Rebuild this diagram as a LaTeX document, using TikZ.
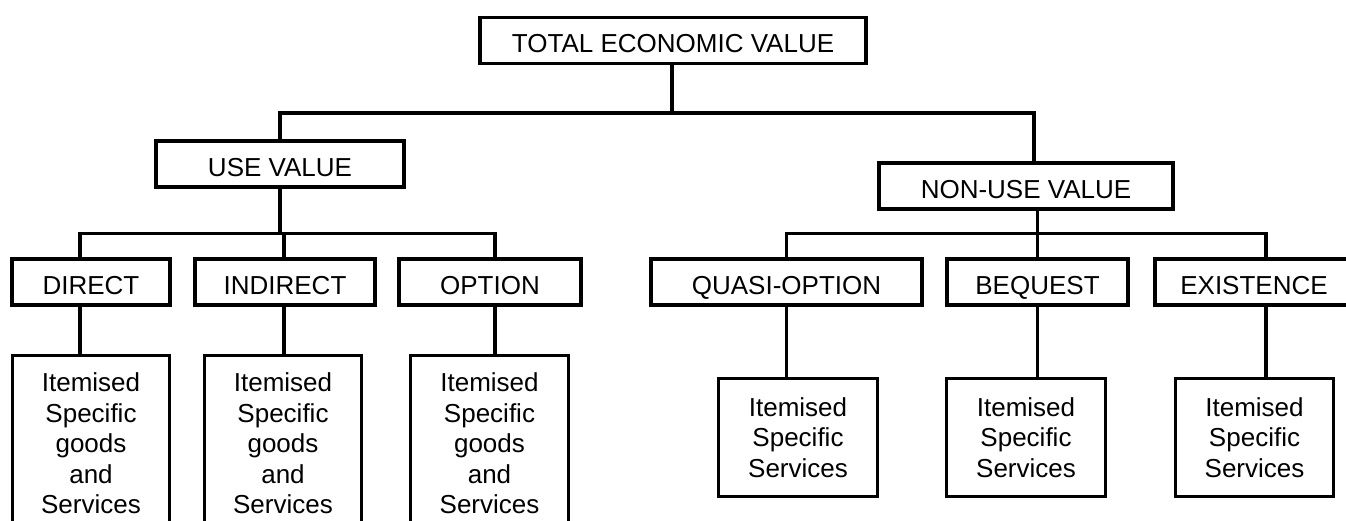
\documentclass[tikz,border=0pt]{standalone}
\usepackage{fontspec}
\setmainfont{Liberation Sans}
\begin{document}
\begin{tikzpicture}[x=1pt,y=-1pt,
  lw/.style={line width=3.3pt},
  box/.style={draw, lw, rectangle, inner sep=0pt, font=\fontsize{26}{30.5}\selectfont},
  onebox/.style={box, text height=25pt, text depth=0pt, minimum height=46pt},
  itembox/.style={box, align=center},
  conn/.style={lw}]
\useasboundingbox (0,0) rectangle (1346,521);
\clip (0,0) rectangle (1346,521);
% level 1
\node[onebox, minimum width=386pt] (total) at (673,40.5) {TOTAL ECONOMIC VALUE};
% level 2
\node[onebox, minimum width=248pt] (use) at (280,164) {USE VALUE};
\node[onebox, minimum width=294pt] (nonuse) at (1026,186) {NON-USE VALUE};
% level 3
\node[onebox, minimum width=158pt] (direct) at (91,282) {DIRECT};
\node[onebox, minimum width=180pt] (indirect) at (285,282) {INDIRECT};
\node[onebox, minimum width=182pt] (option) at (490,282) {OPTION};
\node[onebox, minimum width=271pt] (quasi) at (786.5,282) {QUASI-OPTION};
\node[onebox, minimum width=181pt] (bequest) at (1037.5,282) {BEQUEST};
\node[onebox, minimum width=198pt] (existence) at (1254,282) {EXISTENCE};
% level 4
\node[itembox, minimum width=157pt, minimum height=176pt] (itemD) at (91,443.5) {Itemised\\Specific\\goods\\and\\Services};
\node[itembox, minimum width=157pt, minimum height=176pt] (itemI) at (283,443.5) {Itemised\\Specific\\goods\\and\\Services};
\node[itembox, minimum width=158pt, minimum height=176pt] (itemO) at (489.5,443.5) {Itemised\\Specific\\goods\\and\\Services};
\node[itembox, minimum width=159pt, minimum height=118pt] (itemQ) at (798,437.5) {Itemised\\Specific\\Services};
\node[itembox, minimum width=159pt, minimum height=118pt] (itemB) at (1026,437.5) {Itemised\\Specific\\Services};
\node[itembox, minimum width=158pt, minimum height=118pt] (itemE) at (1254.5,437.5) {Itemised\\Specific\\Services};
% buses
\coordinate (busA) at (0,113);
\coordinate (busB) at (0,233.5);
% connectors level 1 -> 2
\draw[conn] ([xshift=-1pt]total.south) -- ([xshift=-1pt]total.south |- busA);
\draw[conn] (use.north) |- ([xshift=8pt]nonuse.north |- busA) -- ([xshift=8pt]nonuse.north);
% level 2 -> 3
\draw[conn] (use.south) -- (use.south |- busB);
\draw[conn] ([xshift=-11pt]direct.north) |- ([xshift=5pt]option.north |- busB) -- ([xshift=5pt]option.north);
\draw[conn] ([xshift=-1pt]indirect.north) -- ([xshift=-1pt]indirect.north |- busB);
\draw[conn] ([xshift=11.5pt]nonuse.south) -- ([xshift=11.5pt]nonuse.south |- busB);
\draw[conn] (quasi.north) |- ([xshift=12pt]existence.north |- busB) -- ([xshift=12pt]existence.north);
\draw[conn] (bequest.north) -- (bequest.north |- busB);
% level 3 -> 4
\draw[conn] ([xshift=-11pt]direct.south) -- ([xshift=-11pt]direct.south |- itemD.north);
\draw[conn] ([xshift=-1pt]indirect.south) -- ([xshift=-1pt]indirect.south |- itemI.north);
\draw[conn] ([xshift=5pt]option.south) -- ([xshift=5pt]option.south |- itemO.north);
\draw[conn] (quasi.south) -- (quasi.south |- itemQ.north);
\draw[conn] (bequest.south) -- (bequest.south |- itemB.north);
\draw[conn] ([xshift=12pt]existence.south) -- ([xshift=12pt]existence.south |- itemE.north);
\end{tikzpicture}
\end{document}
